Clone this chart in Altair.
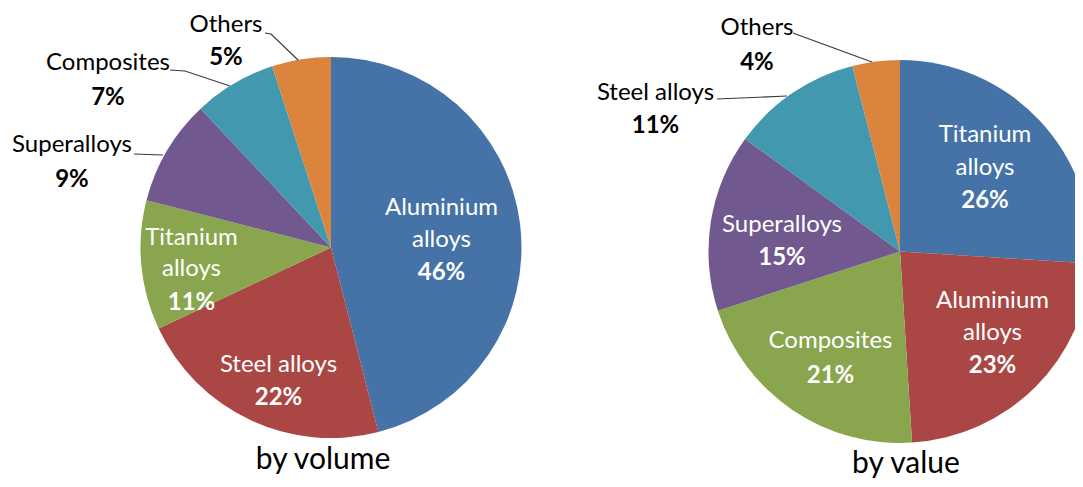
import altair as alt
import pandas as pd

# ---------------- data ----------------
vol_materials = ["Aluminium alloys", "Steel alloys", "Titanium alloys", "Superalloys", "Composites", "Others"]
vol_share = [46, 22, 11, 9, 7, 5]

val_materials = ["Titanium alloys", "Aluminium alloys", "Composites", "Superalloys", "Steel alloys", "Others"]
val_share = [26, 23, 21, 15, 11, 4]

pie_titles = ["by volume", "by value"]

# ---------------- style / layout ----------------
COLORS = ["#4572A7", "#AA4643", "#89A54E", "#71588F", "#4198AF", "#DB843D"]
FONT = "Lato"
W, H = 1067, 470
OFF = 8  # page margin

# pie geometry (page coordinates)
PIES = [
    dict(cx=331, cy=247.5, r=190.5),
    dict(cx=900, cy=251.5, r=191.5),
]

# label layout per slice (page coords): x, baselines of name lines, baseline of percentage, inside?
VOL_LAYOUT = [
    dict(x=441.5, name_y=[215, 247], pct_y=280, inside=True),
    dict(x=278.5, name_y=[372], pct_y=405, inside=True),
    dict(x=191.5, name_y=[245, 276], pct_y=310, inside=True),
    dict(x=72, name_y=[152], pct_y=187, inside=False),
    dict(x=108, name_y=[70], pct_y=105, inside=False),
    dict(x=226, name_y=[32], pct_y=65, inside=False),
]
VAL_LAYOUT = [
    dict(x=985, name_y=[142, 175], pct_y=208, inside=True),
    dict(x=992.5, name_y=[308, 340], pct_y=373, inside=True),
    dict(x=830.5, name_y=[348], pct_y=383, inside=True),
    dict(x=782, name_y=[232], pct_y=265, inside=True),
    dict(x=655.5, name_y=[100], pct_y=133, inside=False),
    dict(x=757, name_y=[35], pct_y=70, inside=False),
]
LEADERS = [
    [(265, 33), (271, 34), (298, 60)],
    [(170, 70), (185, 71), (230, 86)],
    [(134, 154), (163, 155)],
    [(793, 33), (801, 36), (872, 62)],
    [(717, 99), (787, 96)],
]
TITLE_POS = [(323, 469), (906, 473)]


def px(v):
    return v - OFF


xs = alt.Scale(domain=[0, W], range=[0, W], nice=False, zero=False)
ys = alt.Scale(domain=[0, H], range=[0, H], nice=False, zero=False)

# ---------------- pies ----------------
layers = []
for pie, mats, shares in zip(PIES, [vol_materials, val_materials], [vol_share, val_share]):
    df = pd.DataFrame({"material": mats, "share": shares, "slot": list(range(len(mats)))})
    arc = (
        alt.Chart(df)
        .mark_arc(radius=pie["r"])
        .encode(
            theta=alt.Theta("share:Q", stack=True, scale=alt.Scale(domain=[0, 100])),
            order=alt.Order("slot:O"),
            color=alt.Color("slot:N", scale=alt.Scale(domain=list(range(6)), range=COLORS), legend=None),
            x=alt.value(px(pie["cx"])),
            y=alt.value(px(pie["cy"])),
        )
    )
    layers.append(arc)

# ---------------- labels ----------------
name_rows, pct_rows = [], []
for mats, shares, layout in [(vol_materials, vol_share, VOL_LAYOUT), (val_materials, val_share, VAL_LAYOUT)]:
    for m, s, lay in zip(mats, shares, layout):
        col = "#FFFFFF" if lay["inside"] else "#000000"
        parts = m.split(" ") if len(lay["name_y"]) > 1 else [m]
        for part, yb in zip(parts, lay["name_y"]):
            name_rows.append(dict(text=part, x=px(lay["x"]), y=px(yb), color=col))
        pct_rows.append(dict(text=f"{s}%", x=px(lay["x"]), y=px(lay["pct_y"]), color=col))

names = (
    alt.Chart(pd.DataFrame(name_rows))
    .mark_text(font=FONT, fontSize=24, baseline="alphabetic", align="center")
    .encode(
        x=alt.X("x:Q", scale=xs, axis=None),
        y=alt.Y("y:Q", scale=ys, axis=None),
        text="text:N",
        color=alt.Color("color:N", scale=None),
    )
)
pcts = (
    alt.Chart(pd.DataFrame(pct_rows))
    .mark_text(font=FONT, fontSize=24, fontWeight="bold", baseline="alphabetic", align="center")
    .encode(
        x=alt.X("x:Q", scale=xs, axis=None),
        y=alt.Y("y:Q", scale=ys, axis=None),
        text="text:N",
        color=alt.Color("color:N", scale=None),
    )
)

# leader lines
lead_rows = []
for i, pts in enumerate(LEADERS):
    for j, (lx, ly) in enumerate(pts):
        lead_rows.append(dict(lid=i, seq=j, x=px(lx), y=px(ly)))
leaders = (
    alt.Chart(pd.DataFrame(lead_rows))
    .mark_line(color="#3a3a3a", strokeWidth=1.2)
    .encode(
        x=alt.X("x:Q", scale=xs, axis=None),
        y=alt.Y("y:Q", scale=ys, axis=None),
        detail="lid:N",
        order="seq:O",
    )
)

# titles
title_df = pd.DataFrame(
    {"text": pie_titles, "x": [px(p[0]) for p in TITLE_POS], "y": [px(p[1]) for p in TITLE_POS]}
)
titles = (
    alt.Chart(title_df)
    .mark_text(font=FONT, fontSize=30, baseline="alphabetic", align="center", color="#000000")
    .encode(
        x=alt.X("x:Q", scale=xs, axis=None),
        y=alt.Y("y:Q", scale=ys, axis=None),
        text="text:N",
    )
)

chart = (
    alt.layer(*layers, leaders, names, pcts, titles)
    .resolve_scale(theta="independent")
    .properties(width=W, height=H, autosize=alt.AutoSizeParams(type="none"), padding=0)
    .configure_view(stroke=None)
)

chart.save("out.html", embed_options={"renderer": "svg", "actions": False})
